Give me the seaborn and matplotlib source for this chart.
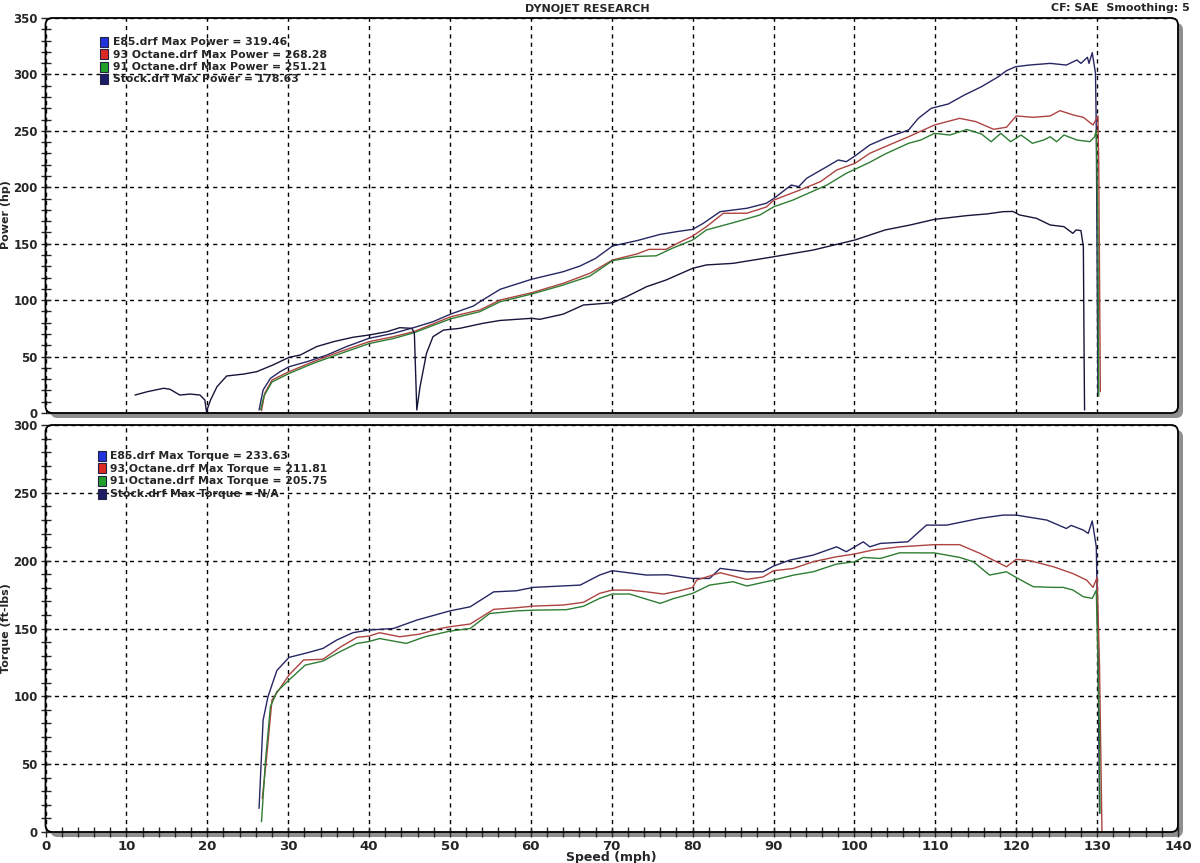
import matplotlib
matplotlib.use("Agg")
import matplotlib.pyplot as plt
import seaborn as sns
import pandas as pd
from matplotlib.patches import FancyBboxPatch, Rectangle
from matplotlib.ticker import MultipleLocator

# ---------------- data ----------------
e85_pw_mph = [26.4, 26.9, 27.8, 29.0, 30.1, 32.3, 34.8, 37.2, 40.0, 43.0, 45.5, 47.9, 50.1, 52.9, 53.7, 56.2,
              60.1, 64.0, 66.1, 68.0, 70.1, 73.1, 76.0, 78.3, 80.0, 81.3, 83.4, 86.7, 89.1, 90.05, 92.2, 93.1,
              94.1, 96.6, 98.0, 99.0, 100.06, 101.9, 103.8, 106.7, 107.9, 109.5, 111.6, 113.6, 115.7, 117.8,
              118.8, 119.9, 121.6, 124.2, 126.2, 127.5, 128.0, 128.8, 129.0, 129.4, 129.8, 129.9, 130.0, 130.1]
e85_pw_hp = [2.7, 20.4, 30.7, 36.6, 41.0, 45.4, 51.4, 58.8, 66.2, 70.6, 75.6, 80.9, 87.7, 94.8, 98.6, 109.6,
             118.5, 125.2, 130.3, 137.0, 148.0, 152.7, 158.3, 161.0, 162.7, 168.0, 178.4, 181.4, 185.8, 190.2, 202.0, 200.5,
             208.0, 218.3, 224.2, 222.7, 227.7, 237.5, 243.4, 250.8, 261.1, 270.0, 273.8, 281.8, 289.1, 298.0,
             303.3, 306.8, 308.3, 309.8, 308.3, 312.8, 309.8, 315.2, 309.8, 319.3, 301.0, 250.8, 132.6, 17.4]

o93_pw_mph = [26.7, 27.1, 28.0, 30.1, 33.1, 36.4, 40.0, 43.0, 45.5, 50.1, 53.7, 56.2, 60.1, 64.0, 67.3, 70.1,
              73.1, 74.6, 76.7, 78.3, 80.0, 81.7, 83.8, 86.7, 89.1, 90.05, 91.6, 93.1, 95.8, 97.8, 100.06, 101.9,
              103.8, 106.7, 109.9, 113.0, 115.0, 117.2, 118.8, 120.0, 122.1, 124.2, 125.4, 127.1, 128.3, 129.5,
              130.1, 130.2, 130.4]
o93_pw_hp = [2.0, 17.4, 29.2, 36.6, 45.5, 54.3, 63.2, 67.6, 72.0, 85.3, 91.3, 100.1, 106.6, 114.9, 123.8, 135.6,
             140.9, 145.0, 145.0, 151.0, 156.8, 165.1, 177.0, 177.0, 182.5, 188.7, 193.0, 197.1, 205.0, 215.3, 221.2, 230.1,
             236.0, 244.8, 255.2, 261.1, 258.2, 251.4, 253.2, 263.2, 262.0, 263.2, 267.9, 264.0, 262.0, 255.2,
             263.2, 221.8, 18.9]

o91_pw_mph = [26.6, 27.0, 28.0, 30.1, 33.1, 36.4, 40.0, 43.0, 45.5, 50.1, 53.7, 56.2, 60.1, 64.0, 67.3, 70.1,
              73.1, 75.5, 77.5, 80.0, 81.7, 85.0, 88.3, 90.05, 92.4, 94.1, 96.6, 99.0, 101.8, 103.8, 106.7, 108.2,
              109.9, 111.8, 113.9, 115.7, 116.9, 118.1, 119.3, 120.6, 122.0, 123.4, 124.2, 125.0, 125.9, 127.5,
              129.1, 129.7, 129.9, 130.1, 130.2]
o91_pw_hp = [3.0, 15.0, 27.5, 35.0, 44.0, 52.5, 61.5, 66.0, 71.0, 83.5, 89.8, 98.6, 105.4, 113.4, 121.3, 135.0,
             138.7, 139.3, 146.0, 153.3, 162.2, 168.6, 175.4, 182.8, 188.7, 194.1, 202.0, 212.4, 221.8, 229.5, 239.0, 241.9,
             247.8, 246.3, 251.2, 247.2, 240.4, 247.8, 240.4, 246.3, 239.0, 241.9, 244.8, 240.4, 246.3, 241.9,
             240.4, 244.8, 250.8, 162.2, 14.8]

stock_pw_mph = [11.06, 12.6, 14.6, 15.4, 16.6, 17.9, 19.1, 19.7, 19.9, 20.4, 21.2, 22.4, 24.5, 26.1, 28.1, 30.1,
                31.5, 33.5, 35.6, 38.0, 40.0, 42.2, 43.8, 45.3, 45.6, 45.9, 46.3, 47.1, 47.9, 49.2, 51.2, 54.1,
                56.2, 60.1, 61.1, 64.0, 66.5, 70.1, 71.8, 74.3, 76.7, 80.0, 81.7, 85.0, 90.05, 94.9, 100.06,
                103.8, 106.9, 109.9, 113.9, 116.4, 118.4, 119.6, 120.4, 122.5, 124.2, 125.9, 127.0, 127.4, 128.0,
                128.3, 128.4, 128.45]
stock_pw_hp = [15.9, 18.9, 21.9, 21.0, 15.9, 16.8, 15.9, 11.5, 1.2, 11.5, 23.3, 32.8, 34.5, 36.6, 42.5, 49.3,
               51.4, 58.8, 63.2, 67.1, 69.1, 72.0, 75.6, 75.0, 70.6, 2.7, 23.3, 52.9, 67.6, 73.5, 75.0, 79.5,
               82.0, 83.9, 83.0, 87.6, 95.7, 97.7, 103.0, 111.9, 117.8, 128.2, 131.2, 132.6, 138.5, 144.4, 153.3,
               162.2, 166.6, 171.6, 174.9, 176.4, 178.4, 178.6, 175.5, 172.5, 166.6, 165.1, 159.2, 162.2, 161.6,
               147.4, 44.0, 2.7]

e85_tq_mph = [26.4, 26.9, 27.5, 28.6, 30.1, 32.3, 34.3, 36.0, 38.0, 40.0, 43.0, 45.9, 50.0, 52.5, 55.4, 58.2,
              60.3, 66.1, 68.5, 70.06, 74.3, 76.9, 80.0, 82.1, 83.4, 86.7, 88.7, 90.0, 92.0, 94.9, 97.8, 99.0,
              101.1, 101.9, 103.2, 106.6, 108.9, 111.4, 115.5, 118.4, 120.0, 123.8, 126.2, 126.8, 128.3, 128.9,
              129.4, 129.9, 130.1, 130.3]
e85_tq_lbft = [17.4, 82.5, 99.7, 119.0, 128.7, 132.0, 135.3, 141.5, 146.9, 148.9, 150.0, 156.2, 163.0, 166.0, 177.0, 177.8,
               180.3, 182.0, 189.4, 192.6, 189.4, 189.6, 186.9, 186.9, 194.3, 191.8, 191.8, 196.0, 200.4, 204.1, 210.2, 206.6,
               213.9, 210.2, 212.7, 213.9, 226.2, 226.2, 231.2, 233.6, 233.6, 229.9, 223.7, 226.0, 222.5, 220.1,
               229.3, 210.2, 141.5, 13.8]

o93_tq_mph = [26.8, 27.3, 28.0, 30.1, 31.9, 34.3, 36.4, 38.5, 40.0, 41.3, 43.8, 46.3, 48.8, 50.0, 52.5, 55.4,
              58.2, 60.3, 64.0, 66.5, 68.5, 70.06, 72.2, 74.3, 76.4, 78.4, 80.0, 80.5, 83.4, 86.7, 88.7, 90.0,
              92.4, 94.9, 97.8, 100.0, 102.3, 105.6, 109.9, 113.0, 115.5, 118.8, 120.0, 121.7, 124.6, 127.0,
              128.7, 129.5, 130.0, 130.3, 130.6]
o93_tq_lbft = [24.8, 53.0, 97.3, 115.7, 126.8, 127.3, 136.1, 143.5, 144.4, 146.9, 143.9, 145.9, 150.0, 151.3, 153.3, 164.1,
               165.3, 166.5, 167.3, 169.3, 175.9, 178.3, 178.3, 177.0, 175.4, 177.8, 180.3, 185.7, 191.1, 186.2, 188.0, 192.6,
               194.2, 199.2, 202.9, 204.9, 207.9, 210.2, 211.8, 211.8, 205.4, 195.5, 201.0, 200.0, 195.5, 190.5,
               185.7, 180.3, 187.7, 121.8, 0.0]

o91_tq_mph = [26.7, 27.2, 27.8, 28.6, 30.1, 32.1, 34.3, 36.4, 38.5, 40.0, 41.3, 44.6, 46.9, 50.0, 52.5, 54.9,
              58.2, 60.3, 64.4, 66.5, 68.5, 70.06, 72.2, 76.0, 77.6, 80.0, 82.1, 85.0, 86.7, 90.0, 92.5, 94.9,
              97.8, 100.0, 101.1, 103.2, 105.6, 109.9, 113.0, 114.7, 116.7, 118.8, 120.0, 122.1, 124.6, 125.8,
              127.0, 128.3, 129.4, 129.9, 130.3, 130.35]
o91_tq_lbft = [7.6, 53.0, 92.3, 103.4, 112.0, 123.0, 126.0, 132.9, 139.0, 140.4, 142.6, 139.0, 143.9, 148.1, 150.0, 161.0,
               163.0, 163.5, 163.9, 166.4, 172.2, 175.4, 175.4, 168.5, 172.0, 175.9, 182.0, 184.5, 181.3, 185.7, 189.4, 191.8,
               197.5, 199.2, 202.4, 201.6, 205.8, 205.7, 202.4, 199.2, 189.4, 191.8, 187.6, 180.8, 180.3, 180.3,
               178.4, 173.4, 172.2, 178.3, 72.7, 13.8]

run_names = ["E85", "93 Octane", "91 Octane", "Stock"]
power_legend = ["E85.drf Max Power = 319.46", "93 Octane.drf Max Power = 268.28",
                "91 Octane.drf Max Power = 251.21", "Stock.drf Max Power = 178.63"]
torque_legend = ["E85.drf Max Torque = 233.63", "93 Octane.drf Max Torque = 211.81",
                 "91 Octane.drf Max Torque = 205.75", "Stock.drf Max Torque = N/A"]

line_colors = {"E85": "#262663", "93 Octane": "#ad4440", "91 Octane": "#2f7d33", "Stock": "#16163a"}
swatch_colors = ["#2233dd", "#dd2a22", "#22a02a", "#1d1d66"]

# ---------------- build frames ----------------
def long_df(pairs):
    parts = []
    for name, xs, ys in pairs:
        parts.append(pd.DataFrame({"run": name, "speed": xs, "val": ys}))
    return pd.concat(parts, ignore_index=True)

pw = long_df([("E85", e85_pw_mph, e85_pw_hp), ("93 Octane", o93_pw_mph, o93_pw_hp),
              ("91 Octane", o91_pw_mph, o91_pw_hp), ("Stock", stock_pw_mph, stock_pw_hp)])
tq = long_df([("E85", e85_tq_mph, e85_tq_lbft), ("93 Octane", o93_tq_mph, o93_tq_lbft),
              ("91 Octane", o91_tq_mph, o91_tq_lbft)])

# ---------------- figure ----------------
sns.set_theme(style="white")
plt.rcParams['font.family'] = ['DejaVu Sans']
plt.rcParams['axes.linewidth'] = 1.0

W, H = 1200, 863
fig = plt.figure(figsize=(W / 100, H / 100), dpi=100)
fig.patch.set_facecolor("white")

def fr(l, t, r, b):
    return [l / W, 1 - b / H, (r - l) / W, (b - t) / H]

ax1 = fig.add_axes(fr(45.5, 18, 1178, 413))
ax2 = fig.add_axes(fr(45.5, 425, 1178, 832))

def decorate(ax):
    ax.set_facecolor("none")
    for s in ax.spines.values():
        s.set_visible(False)
    bb = ax.get_position()
    r = 7 / W
    shadow = FancyBboxPatch((bb.x0 + 5 / W, bb.y0 - 5 / H), bb.width, bb.height,
                            boxstyle=f"round,pad=0,rounding_size={r}", mutation_aspect=W / H,
                            transform=fig.transFigure, fc="#8f8f8f", ec="none", zorder=-3)
    body = FancyBboxPatch((bb.x0, bb.y0), bb.width, bb.height,
                          boxstyle=f"round,pad=0,rounding_size={r}", mutation_aspect=W / H,
                          transform=fig.transFigure, fc="white", ec="none", zorder=-2)
    border = FancyBboxPatch((bb.x0, bb.y0), bb.width, bb.height,
                            boxstyle=f"round,pad=0,rounding_size={r}", mutation_aspect=W / H,
                            transform=fig.transFigure, fc="none", ec="black", lw=1.3, zorder=10)
    fig.add_artist(shadow)
    fig.add_artist(body)
    fig.add_artist(border)

for ax in (ax1, ax2):
    decorate(ax)

for ax, df in ((ax1, pw), (ax2, tq)):
    sns.lineplot(data=df, x="speed", y="val", hue="run", units="run", estimator=None, sort=False,
                 palette=line_colors, linewidth=1.0, legend=False, ax=ax)
    ax.set_xlim(0, 140)
    ax.xaxis.set_major_locator(MultipleLocator(10))
    ax.xaxis.set_minor_locator(MultipleLocator(2))
    ax.yaxis.set_major_locator(MultipleLocator(50))
    ax.yaxis.set_minor_locator(MultipleLocator(10))
    ax.grid(which="major", color="black", linestyle=(0, (3, 3)), linewidth=1.0)
    ax.set_axisbelow(True)
    ax.tick_params(axis="y", which="both", direction="inout", length=7, width=1, left=True,
                   labelsize=8.5, pad=2)
    ax.set_xlabel("")
    ax.set_ylabel("")

ax1.set_ylim(0, 350)
ax2.set_ylim(0, 300)
ax1.tick_params(axis="x", which="both", length=0, labelbottom=False, bottom=False)
ax2.tick_params(axis="x", which="both", direction="inout", length=7, width=1, bottom=True,
                labelsize=9.5, pad=2)
for ax in (ax1, ax2):
    for lab in ax.get_yticklabels():
        lab.set_fontweight("bold")
for lab in ax2.get_xticklabels():
    lab.set_fontweight("bold")

# axis labels
fig.text(6.5 / W, 1 - 215 / H, "Power (hp)", rotation=90, ha="center", va="center",
         fontsize=8, fontweight="bold")
fig.text(6.5 / W, 1 - 628 / H, "Torque (ft-lbs)", rotation=90, ha="center", va="center",
         fontsize=8, fontweight="bold")
fig.text(611 / W, 1 - 857 / H, "Speed (mph)", ha="center", va="center",
         fontsize=9, fontweight="bold")

# header
fig.text(587 / W, 1 - 9 / H, "DYNOJET RESEARCH", ha="center", va="center",
         fontsize=8, fontweight="bold")
fig.text(1190 / W, 1 - 8 / H, "CF: SAE  Smoothing: 5", ha="right", va="center",
         fontsize=8, fontweight="bold")

# custom legends
def legend(x_sq, x_txt, ys, labels):
    for y, lab, c in zip(ys, labels, swatch_colors):
        fig.add_artist(Rectangle((x_sq / W, 1 - (y + 5) / H), 8 / W, 10 / H, transform=fig.transFigure,
                                 fc=c, ec="#222244", lw=0.8, zorder=11))
        fig.text(x_txt / W, 1 - y / H, lab, ha="left", va="center", fontsize=7.8,
                 fontweight="bold", zorder=12)

legend(100, 113, [42, 54.5, 67, 79.5], power_legend)
legend(98, 110, [456, 468.5, 481, 493.5], torque_legend)

fig.savefig("out.png", dpi=100)
